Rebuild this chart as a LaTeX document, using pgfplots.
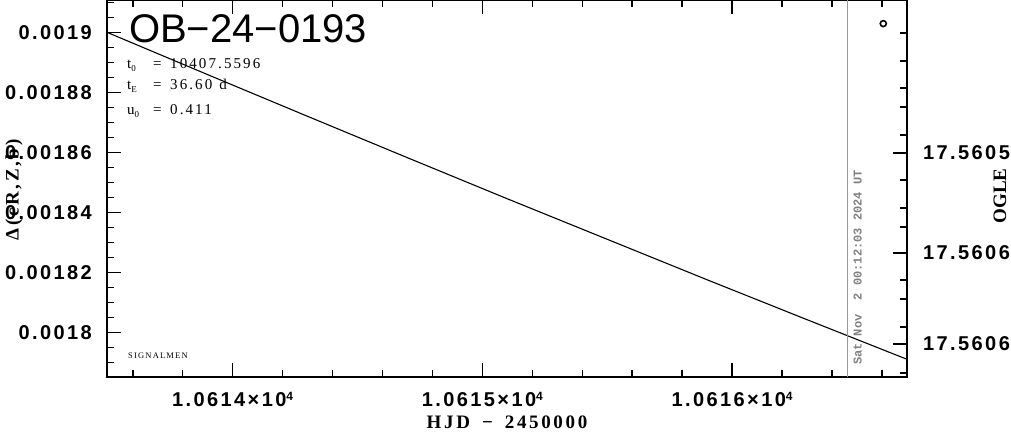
\documentclass[border=0pt]{standalone}
\usepackage{fontspec}
\setmainfont{Liberation Serif}
\newfontfamily\tickfont[LetterSpace=12]{Liberation Sans}
\newfontfamily\titlefont{Liberation Sans}
\newfontfamily\serifls[LetterSpace=14]{Liberation Serif}
\newfontfamily\monofont{Liberation Mono}
\usepackage{pgfplots}
\usepackage{pgfplotstable}
\pgfplotsset{compat=1.18}
\definecolor{stampgray}{gray}{0.5}
\definecolor{rulegray}{gray}{0.6}
\newcommand{\sub}[1]{\raisebox{-3.5pt}{\fontsize{9}{9}\selectfont #1}}
\newcommand{\prow}[2]{\makebox[26pt][l]{#1}\makebox[17pt][l]{=}#2}
\newcommand{\tenfour}[1]{#1×10\raisebox{6.5pt}{\fontsize{12}{12}\selectfont 4}}

% x = HJD - 2450000 - 10613
\pgfplotstableread{
x y
0.497 0.0019000
0.897 0.0018860
1.297 0.0018721
1.697 0.0018583
2.097 0.0018446
2.497 0.0018311
2.897 0.0018176
3.297 0.0018043
3.697 0.0017911
}\modelcurve

\begin{document}
\begin{tikzpicture}
\begin{axis}[
  at={(0,0)}, anchor=south west,
  scale only axis, width=800pt, height=377pt,
  xmin=0.497, xmax=3.700,
  ymin=0.0017851, ymax=0.00191077,
  clip=false,
  xtick={1,2,3},
  xticklabels={\tenfour{1.0614},\tenfour{1.0615},\tenfour{1.0616}},
  minor xtick={0.6,0.8,1.2,1.4,1.6,1.8,2.2,2.4,2.6,2.8,3.2,3.4,3.6},
  ytick={0.0018,0.00182,0.00184,0.00186,0.00188,0.0019},
  yticklabels={0.0018,0.00182,0.00184,0.00186,0.00188,0.0019},
  minor ytick={0.00179,0.001795,0.001805,0.00181,0.001815,0.001825,0.00183,0.001835,0.001845,0.00185,0.001855,0.001865,0.00187,0.001875,0.001885,0.00189,0.001895,0.001905,0.00191},
  ytick pos=left,
  tick align=inside,
  major tick length=14pt, minor tick length=7pt,
  every tick/.style={black, line width=1.6pt},
  axis line style={line width=2pt},
  ticklabel style={font=\tickfont\bfseries\fontsize{20}{20}\selectfont},
  yticklabel style={anchor=east, inner sep=0pt, xshift=-15pt},
  xticklabel style={anchor=north, inner sep=0pt, yshift=-15pt},
  xlabel={\serifls\bfseries HJD\hspace{12pt}−\hspace{12pt}2450000},
  xlabel style={at={(axis description cs:0.5,0)}, anchor=base, inner sep=0pt, yshift=-51pt, font=\fontsize{19}{19}\selectfont},
]
\addplot[black, line width=1.1pt] table[x=x, y=y] {\modelcurve};
\addplot[rulegray, line width=1pt] coordinates {(3.4598,0.0017851) (3.4598,0.00191077)};
\addplot[only marks, mark=o, mark size=3pt, mark options={line width=1.6pt, black}] coordinates {(3.605,0.0019029)};

\node[anchor=base west, inner sep=0pt, font=\titlefont\fontsize{40}{40}\selectfont] at (rel axis cs:0.0275,0.886) {OB−24−0193};
\node[anchor=base west, inner sep=0pt, font=\serifls\fontsize{15}{15}\selectfont] at (rel axis cs:0.025,0.8196) {\prow{t\sub{0}}{10407.5596}};
\node[anchor=base west, inner sep=0pt, font=\serifls\fontsize{15}{15}\selectfont] at (rel axis cs:0.025,0.7639) {\prow{t\sub{E}}{36.60\hspace{7pt}d}};
\node[anchor=base west, inner sep=0pt, font=\serifls\fontsize{15}{15}\selectfont] at (rel axis cs:0.025,0.6976) {\prow{u\sub{0}}{0.411}};
\node[anchor=base west, inner sep=0pt, font=\serifls\fontsize{8.5}{8.5}\selectfont] at (rel axis cs:0.02625,0.0504) {SIGNALMEN};
\node[anchor=base west, inner sep=0pt, rotate=90, text=stampgray, font=\monofont\bfseries\fontsize{12}{12}\selectfont] at (rel axis cs:0.9434,0.0318) {Sat Nov\ \ 2 00:12:03 2024 UT};
\node[anchor=center, inner sep=0pt, rotate=90, font=\serifls\bfseries\fontsize{19}{19}\selectfont] at (rel axis cs:-0.11625,0.496) {Δ(cR,Z,b)};
\node[anchor=center, inner sep=0pt, rotate=90, font=\bfseries\fontsize{19}{19}\selectfont] at (rel axis cs:1.11625,0.48) {OGLE};
\end{axis}

\begin{axis}[
  at={(0,0)}, anchor=south west,
  scale only axis, width=800pt, height=377pt,
  xmin=0, xmax=1, ymin=0, ymax=377, y dir=reverse,
  hide x axis, axis y line*=right,
  axis line style={draw=none},
  ytick={153,253,344},
  yticklabels={17.5605,17.5606,17.5606},
  minor ytick={33,61,88,107,135,180,208,227,280,299,327,373},
  tick align=inside,
  major tick length=14pt, minor tick length=7pt,
  every tick/.style={black, line width=1.6pt},
  ticklabel style={font=\tickfont\bfseries\fontsize{20}{20}\selectfont},
  yticklabel style={anchor=west, inner sep=0pt, xshift=16pt},
]
\end{axis}
\pgfresetboundingbox
\useasboundingbox (-107pt,-57pt) rectangle (904pt,377pt);
\end{tikzpicture}
\end{document}
